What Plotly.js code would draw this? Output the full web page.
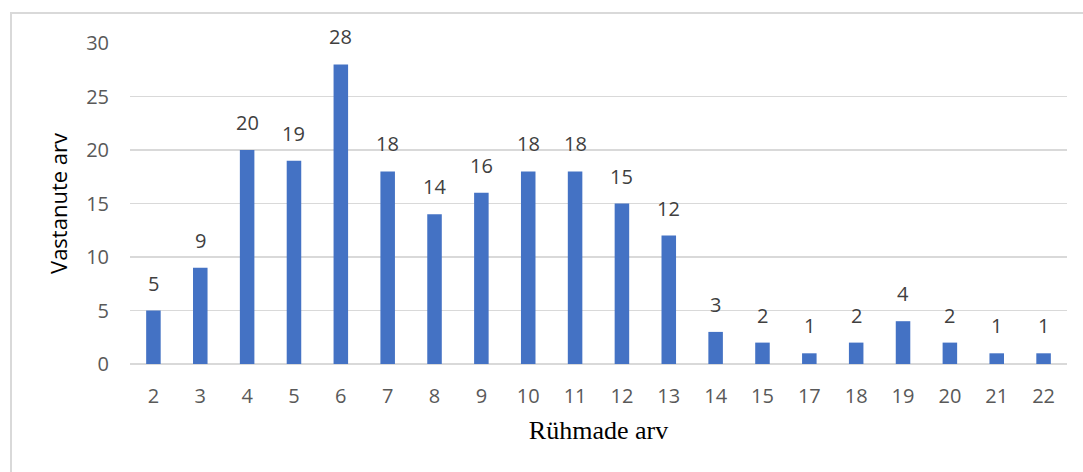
<!DOCTYPE html>
<html>
<head>
<meta charset="utf-8">
<script src="https://cdn.plot.ly/plotly-3.0.1.min.js"></script>
<style>
html,body{margin:0;padding:0;background:#fff;overflow:hidden;width:1083px;height:472px;}
#frame{position:absolute;left:10px;top:12px;width:1100px;height:500px;border-left:2px solid #d9d9d9;border-top:2px solid #d9d9d9;box-sizing:border-box;}
#chart{position:absolute;left:0;top:0;width:1083px;height:472px;}
</style>
</head>
<body>
<div id="frame"></div>
<div id="chart"></div>
<script>
const categories = ["2","3","4","5","6","7","8","9","10","11","12","13","14","15","17","18","19","20","21","22"];
const values = [5,9,20,19,28,18,14,16,18,18,15,12,3,2,1,2,4,2,1,1];
const yTicks = [0,5,10,15,20,25,30];
const xTitle = "Rühmade arv";
const yTitle = "Vastanute arv";

const annotations = categories.map((c,i)=>({
  x: i, y: values[i], xref:'x', yref:'y', text: String(values[i]),
  showarrow:false, yanchor:'bottom', yshift:12,
  font:{family:'"Open Sans", sans-serif', size:20, color:'#404040'}
}));

Plotly.newPlot('chart', [{
  type:'bar', x: categories, y: values,
  marker:{color:'#4472c4'},
  hoverinfo:'none'
}], {
  width:1083, height:472,
  margin:{l:130, r:16, t:43, b:108},
  paper_bgcolor:'rgba(0,0,0,0)', plot_bgcolor:'rgba(0,0,0,0)',
  bargap:0.69,
  showlegend:false,
  xaxis:{type:'category', range:[-0.5, categories.length-0.5], showgrid:false, zeroline:false, showline:false, ticks:'',
    ticklabelstandoff:18,
    tickfont:{family:'"Open Sans", sans-serif', size:20, color:'#595959'},
    title:{text:xTitle, standoff:12, font:{family:'"Liberation Serif", "Times New Roman", serif', size:26, color:'#000'}}},
  yaxis:{range:[0,30], tickvals:yTicks, showgrid:true, gridcolor:'#d9d9d9', gridwidth:1.5,
    zeroline:true, zerolinecolor:'#d9d9d9', zerolinewidth:2, showline:false, ticks:'',
    ticklabelstandoff:20,
    tickfont:{family:'"Open Sans", sans-serif', size:20, color:'#595959'},
    title:{text:yTitle, standoff:12, font:{family:'"Open Sans", sans-serif', size:22, color:'#000'}}},
  annotations: annotations
}, {staticPlot:true});
</script>
</body>
</html>
